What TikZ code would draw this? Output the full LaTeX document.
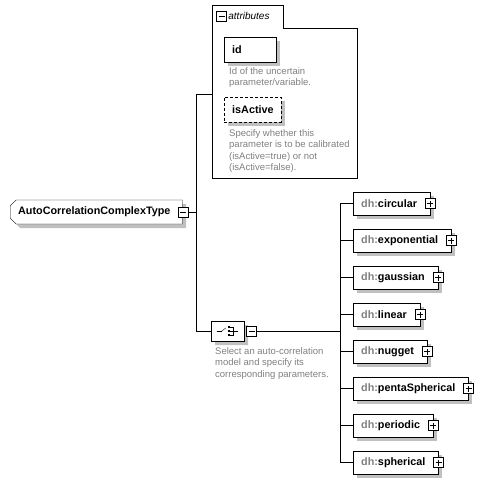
\documentclass[tikz,border=0pt]{standalone}
\usepackage{fontspec}
\setmainfont{Liberation Sans}
\usetikzlibrary{positioning}
\usetikzlibrary{shapes.misc}
\usetikzlibrary{shadows}
\definecolor{descgray}{RGB}{128,128,128}
\definecolor{shadowgray}{RGB}{192,192,192}
\def\boxfont{\bfseries\fontsize{10.8}{12}\selectfont}
\def\descfont{\fontsize{9.5}{11.5}\selectfont}

\tikzset{
    shade box/.style={drop shadow={shadow xshift=4pt, shadow yshift=-4pt,
        fill=shadowgray, opacity=1}},
    elembox/.style={draw, fill=white, font=\boxfont, minimum height=23pt,
        anchor=west, inner xsep=8pt, shade box},
    typebox/.style={elembox, chamfered rectangle,
        chamfered rectangle corners={north west,south west},
        chamfered rectangle xsep=3pt, chamfered rectangle ysep=3pt,
        text width=156pt, align=left, inner xsep=5pt, minimum height=24pt},
    attrbox/.style={elembox, minimum height=25pt, align=left, inner xsep=8pt},
    desc/.style={anchor=north west, align=left, inner sep=0pt,
        text=descgray, font=\descfont},
    iconbox/.style={draw, fill=white, minimum size=10pt, inner sep=0pt},
    minusbox/.style={iconbox, path picture={
        \draw ([xshift=2pt]path picture bounding box.west) --
              ([xshift=-2pt]path picture bounding box.east);}},
    plusbox/.style={iconbox, path picture={
        \draw ([xshift=2pt]path picture bounding box.west) --
              ([xshift=-2pt]path picture bounding box.east);
        \draw ([yshift=2pt]path picture bounding box.south) --
              ([yshift=-2pt]path picture bounding box.north);}},
    choicebox/.style={draw, fill=white, chamfered rectangle,
        chamfered rectangle xsep=5pt, chamfered rectangle ysep=5pt,
        minimum width=33pt, minimum height=20pt, inner sep=0pt,
        anchor=west, shade box},
    modelbox/.style={elembox, execute at end node={\hspace{5pt}}}
}

\begin{document}
\begin{tikzpicture}[x=1pt, y=-1pt]
    \useasboundingbox (0,0) rectangle (482,484);

    % the complex type and its trunk
    \node[typebox] (cplx) at (10,212) {AutoCorrelationComplexType};
    \node[minusbox] (cplxminus) at ([xshift=1pt]cplx.east) {};
    \coordinate (trunktop) at (196,94);
    \coordinate (trunkbot) at (196,331);
    \draw (cplxminus.east) -- (trunktop |- cplxminus);
    \draw (trunktop) -- (trunkbot);

    % attributes group
    \draw[fill=white] (212,5) -- (283,5) -- (283,28) -- (357,28) -- (357,178)
        -- (212,178) -- cycle;
    \coordinate (attrs) at (212,94);
    \draw (trunktop) -- (attrs);
    \node[minusbox] (attrminus) at (221.5,16) {};
    \node[anchor=west, inner sep=0pt, font=\itshape\fontsize{10}{12}\selectfont,
        right=1.5pt of attrminus] (attrlabel) {attributes};

    \node[attrbox, text width=36pt] (id) at (224,49.5) {id};
    \node[desc] (iddesc) at (229,67) {Id of the uncertain\\parameter/variable.};
    \node[attrbox, text width=41pt, dash pattern=on 3pt off 2pt]
        (isactive) at (224,109.5) {isActive};
    \node[desc] (isactivedesc) at (229,129) {Specify whether this\\parameter is
        to be calibrated\\(isActive=true) or not\\(isActive=false).};

    % choice of correlation models
    \node[choicebox] (choice) at (211,331) {};
    \begin{scope}[shift={(choice.center)}]
        \draw (-11,0) -- (-6,0);
        \draw (-7,1) -- (-2,-3);
        \foreach \dy in {-4,0,4}
            \fill (0,\dy-1) rectangle (2.5,\dy+1);
        \draw (2.5,-4) -- (5.5,-4) -- (5.5,4) -- (2.5,4);
        \draw (2.5,0) -- (10,0);
    \end{scope}
    \node[minusbox, right=2pt of choice] (choiceminus) {};
    \draw (trunkbot) -- (choice.west);
    \node[desc] (choicedesc) at (215,347) {Select an auto-correlation\\model and
        specify its\\corresponding parameters.};

    \coordinate (bus) at (340,331);
    \draw (choiceminus.east) -- (bus);
    \draw (bus |- 0,203.5) -- (bus |- 0,462.5);
    \foreach \name [count=\i] in {circular,exponential,gaussian,linear,nugget,
        pentaSpherical,periodic,spherical} {
        \node[modelbox] (\name) at (353,{203.5+37*(\i-1)})
            {\textcolor{descgray}{dh:}\name};
        \node[plusbox] (\name plus) at (\name.east) {};
        \draw (bus |- \name.west) -- (\name.west);
    }
\end{tikzpicture}
\end{document}
